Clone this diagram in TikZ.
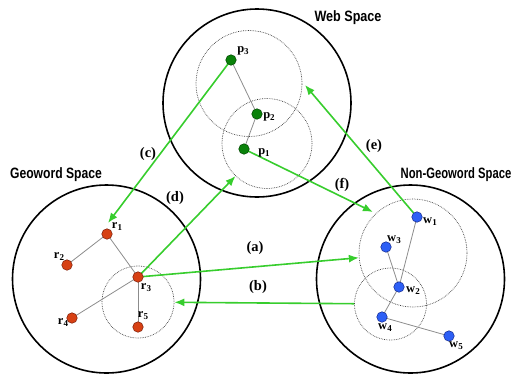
\documentclass[tikz,border=0pt]{standalone}
\usepackage{fontspec}
\setmainfont{Liberation Serif}
\newfontfamily\titlefont{Liberation Sans}
\usetikzlibrary{arrows.meta}
\definecolor{arrowgreen}{RGB}{55,205,45}
\definecolor{pfill}{RGB}{10,130,10}
\definecolor{pline}{RGB}{0,70,0}
\definecolor{rfill}{RGB}{215,65,20}
\definecolor{rline}{RGB}{120,30,10}
\definecolor{wfill}{RGB}{45,95,245}
\definecolor{wline}{RGB}{20,40,140}
\newcommand{\lbl}[2]{{\bfseries #1\raisebox{-0.35ex}{\fontsize{9}{9}\selectfont #2}}}
\newcommand{\narrow}[2]{\scalebox{#1}[1]{#2}}
\tikzset{
  space/.style={circle, draw=black, line width=1.6pt, minimum size=188pt, inner sep=0pt},
  zone/.style={circle, draw=black!75, densely dotted, line width=0.7pt, inner sep=0pt},
  pnode/.style={circle, fill=pfill, draw=pline, line width=0.5pt, minimum size=10.5pt, inner sep=0pt},
  rnode/.style={circle, fill=rfill, draw=rline, line width=0.5pt, minimum size=10.5pt, inner sep=0pt},
  wnode/.style={circle, fill=wfill, draw=wline, line width=0.5pt, minimum size=10.5pt, inner sep=0pt},
  link/.style={draw=black!45, line width=0.8pt},
  flow/.style={draw=arrowgreen, line width=1.6pt, -{Latex[length=10pt,width=8pt]}},
  tag/.style={inner sep=0pt, font=\fontsize{12.5}{12.5}\selectfont},
  flowtag/.style={inner sep=0pt, font=\bfseries\fontsize{14.5}{14.5}\selectfont},
  title/.style={inner sep=0pt, font=\titlefont\bfseries\fontsize{15}{15}\selectfont}
}
\begin{document}
\begin{tikzpicture}[x=1pt, y=-1pt]
  \useasboundingbox (0,0) rectangle (516,381);

  % the three spaces
  \node[space] (web) at (257,103) {};
  \node[space] (geo) at (106.5,279) {};
  \node[space] (ngeo) at (410.5,279) {};
  \node[title] (webt) at (348,18) {\narrow{0.84}{Web Space}};
  \node[title] (geot) at (56,175) {\narrow{0.81}{Geoword Space}};
  \node[title] (ngeot) at (456,175) {\narrow{0.75}{Non-Geoword Space}};

  % dotted neighbourhoods
  \node[zone, minimum size=106pt] (wu) at (249,83.5) {};
  \node[zone, minimum size=90pt] (wl) at (267,143.5) {};
  \node[zone, minimum size=72pt] (gc) at (138,302) {};
  \node[zone, minimum size=108pt] (na) at (413,253) {};
  \node[zone, minimum size=72pt] (nb) at (390.5,304) {};

  % node positions
  \coordinate (P3) at (231,60);
  \coordinate (P2) at (257,114);
  \coordinate (P1) at (244,149);
  \coordinate (R1) at (107,234);
  \coordinate (R2) at (67,265);
  \coordinate (R3) at (138,277);
  \coordinate (R4) at (72,318);
  \coordinate (R5) at (138,327);
  \coordinate (W1) at (417,217);
  \coordinate (W3) at (386,247);
  \coordinate (W2) at (399,287);
  \coordinate (W4) at (382,317);
  \coordinate (W5) at (449,336);

  % links inside each space
  \draw[link] (P3) -- (P2) -- (P1);
  \draw[link] (R2) -- (R1) -- (R3) -- (R4);
  \draw[link] (R3) -- (R5);
  \draw[link] (W1) -- (W2) -- (W4) -- (W5);
  \draw[link] (W3) -- (W2);

  % arrow ends that stop short of a node
  \coordinate (ctip) at (108,223);
  \coordinate (etip) at (305,85);
  \coordinate (ftip) at (373,212);

  % mappings between spaces
  \draw[flow] (R3) -- (na);
  \draw[flow] (nb) -- (gc);
  \draw[flow] (P3) -- (ctip);
  \draw[flow] (R3) -- (wl);
  \draw[flow] (W1) -- (etip);
  \draw[flow] (P1) -- (ftip);

  % the points
  \node[pnode] (p3) at (P3) {};
  \node[pnode] (p2) at (P2) {};
  \node[pnode] (p1) at (P1) {};
  \node[rnode] (r1) at (R1) {};
  \node[rnode] (r2) at (R2) {};
  \node[rnode] (r3) at (R3) {};
  \node[rnode] (r4) at (R4) {};
  \node[rnode] (r5) at (R5) {};
  \node[wnode] (w1) at (W1) {};
  \node[wnode] (w3) at (W3) {};
  \node[wnode] (w2) at (W2) {};
  \node[wnode] (w4) at (W4) {};
  \node[wnode] (w5) at (W5) {};

  % point names
  \node[tag] (p3l) at (243,51) {\lbl{p}{3}};
  \node[tag] (p2l) at (269,117) {\lbl{p}{2}};
  \node[tag] (p1l) at (264,153) {\lbl{p}{1}};
  \node[tag] (r1l) at (117,227) {\lbl{r}{1}};
  \node[tag] (r2l) at (59,257) {\lbl{r}{2}};
  \node[tag] (r3l) at (146,288) {\lbl{r}{3}};
  \node[tag] (r4l) at (63,323) {\lbl{r}{4}};
  \node[tag] (r5l) at (143,316) {\lbl{r}{5}};
  \node[tag] (w1l) at (430,222) {\lbl{w}{1}};
  \node[tag] (w3l) at (394,240) {\lbl{w}{3}};
  \node[tag] (w2l) at (413,291) {\lbl{w}{2}};
  \node[tag] (w4l) at (385,328) {\lbl{w}{4}};
  \node[tag] (w5l) at (456,346) {\lbl{w}{5}};

  % mapping names
  \node[flowtag] (la) at (255,248) {(a)};
  \node[flowtag] (lb) at (258,287) {(b)};
  \node[flowtag] (lc) at (148,154) {(c)};
  \node[flowtag] (ld) at (175,198) {(d)};
  \node[flowtag] (le) at (374,146) {(e)};
  \node[flowtag] (lf) at (342,185) {(f)};
\end{tikzpicture}
\end{document}
